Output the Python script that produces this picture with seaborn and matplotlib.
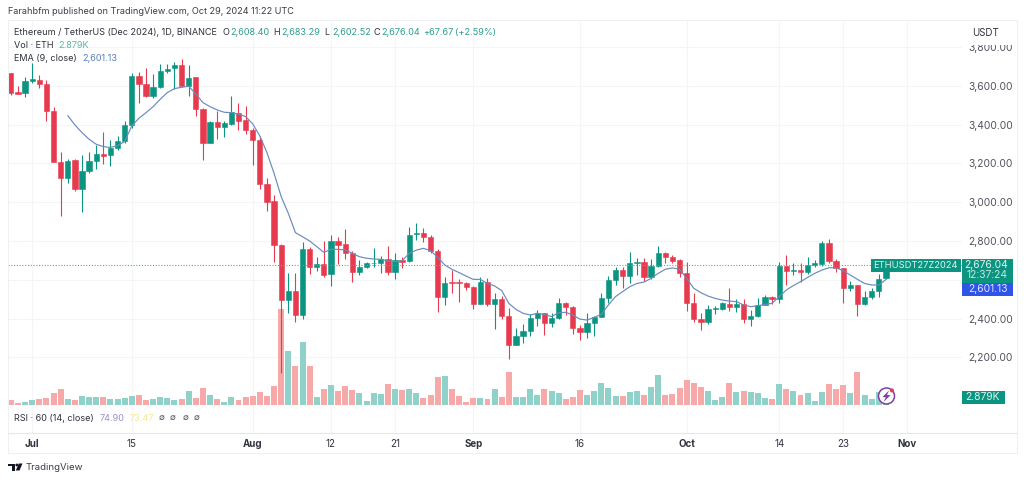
import numpy as np
import pandas as pd
import matplotlib
matplotlib.use('Agg')
import matplotlib.pyplot as plt
from matplotlib.patches import Rectangle, Circle, Polygon
from matplotlib.transforms import Affine2D
import seaborn as sns

# days counted from 1 Jul 2024, first candle is 28 Jun
days = list(range(-3, 121))

opens = [3665, 3567, 3562, 3626, 3631, 3610, 3468, 3210, 3127, 3218, 3068, 3161, 3211, 3247, 3242, 3282, 3318, 3400, 3652,
         3610, 3548, 3593, 3676, 3690, 3710, 3602, 3645, 3483, 3308, 3413, 3387, 3404, 3459, 3425, 3371, 3321, 3092,
         3005, 2779, 2495, 2544, 2418, 2757, 2667, 2681, 2630, 2800, 2783, 2740, 2642, 2664, 2685, 2686, 2707, 2642, 2702,
         2695, 2834, 2840, 2819, 2748, 2509, 2590, 2590, 2581, 2564, 2475, 2590, 2477, 2501,
         2415, 2263, 2310, 2334, 2403, 2427, 2379, 2403, 2482, 2458, 2353, 2332, 2377, 2410, 2504, 2599, 2650, 2619, 2685,
         2690, 2612, 2671, 2736, 2719, 2702, 2637, 2478, 2396, 2380, 2447, 2447, 2475, 2458, 2475, 2397, 2413, 2471, 2509,
         2502, 2671, 2647, 2649, 2638, 2678, 2681, 2791, 2698, 2659, 2559, 2571, 2475, 2513, 2544, 2608.40]
highs = [3669, 3600, 3648, 3717, 3655, 3631, 3490, 3258, 3222, 3222, 3244, 3261, 3296, 3364, 3321, 3342, 3421, 3669, 3674,
         3691, 3662, 3714, 3714, 3724, 3738, 3708, 3648, 3487, 3421, 3473, 3421, 3548, 3511, 3497, 3382, 3342, 3123,
         3037, 2785, 2637, 2637, 2797, 2771, 2719, 2802, 2831, 2819, 2860, 2750, 2702, 2693, 2762, 2723, 2774, 2740, 2719,
         2874, 2895, 2865, 2831, 2757, 2612, 2650, 2602, 2590, 2568, 2612, 2607, 2530, 2516,
         2452, 2349, 2372, 2423, 2444, 2430, 2427, 2504, 2487, 2465, 2366, 2430, 2413, 2530, 2619, 2668, 2668, 2745, 2711,
         2711, 2705, 2774, 2745, 2728, 2705, 2693, 2530, 2427, 2470, 2465, 2487, 2556, 2499, 2499, 2444, 2504, 2521, 2516,
         2693, 2728, 2685, 2685, 2716, 2702, 2802, 2809, 2705, 2662, 2595, 2573, 2544, 2556, 2630, 2683.29]
lows = [3554, 3557, 3542, 3617, 3590, 3421, 3205, 2929, 3101, 3060, 2951, 3149, 3170, 3197, 3187, 3270, 3304, 3382, 3511,
        3545, 3536, 3588, 3669, 3583, 3593, 3548, 3445, 3218, 3304, 3325, 3335, 3399, 3373, 3352, 3192, 3067, 2957,
        2693, 2117, 2427, 2384, 2396, 2630, 2647, 2612, 2568, 2681, 2705, 2590, 2623, 2659, 2668, 2637, 2625, 2602, 2659,
        2692, 2805, 2797, 2736, 2435, 2470, 2530, 2487, 2547, 2447, 2473, 2464, 2344, 2396,
        2189, 2261, 2275, 2311, 2361, 2315, 2358, 2396, 2418, 2320, 2289, 2298, 2310, 2406, 2478, 2573, 2556, 2581, 2624,
        2595, 2602, 2664, 2688, 2685, 2612, 2440, 2384, 2341, 2372, 2423, 2444, 2440, 2435, 2378, 2361, 2410, 2468, 2475,
        2478, 2573, 2624, 2590, 2630, 2668, 2671, 2688, 2642, 2478, 2544, 2413, 2468, 2499, 2509, 2602.52]
closes = [3562, 3560, 3626, 3634, 3610, 3468, 3210, 3127, 3215, 3068, 3161, 3211, 3247, 3240, 3282, 3318, 3400, 3652, 3610,
          3548, 3593, 3676, 3688, 3707, 3602, 3643, 3483, 3308, 3416, 3387, 3407, 3464, 3421, 3370, 3321, 3094, 3003,
          2779, 2495, 2544, 2418, 2757, 2667, 2681, 2625, 2798, 2781, 2736, 2642, 2664, 2685, 2688, 2709, 2642, 2702, 2693,
          2833, 2840, 2819, 2748, 2509, 2581, 2585, 2585, 2564, 2475, 2590, 2475, 2501, 2415,
          2263, 2310, 2334, 2403, 2427, 2379, 2403, 2482, 2458, 2351, 2332, 2377, 2410, 2504, 2599, 2650, 2619, 2685, 2690,
          2616, 2671, 2736, 2719, 2698, 2637, 2478, 2396, 2380, 2447, 2454, 2478, 2458, 2475, 2397, 2413, 2471, 2509, 2499,
          2671, 2647, 2650, 2638, 2678, 2685, 2788, 2698, 2659, 2557, 2571, 2475, 2513, 2544, 2604, 2676.04]

# volume in K
volumes = [1.8, 0.8, 1.2, 1.8, 2.1, 2.6, 4.2, 5.7, 2.2, 1.8, 3.3, 3.0, 3.0, 2.8, 2.1, 2.3, 2.6, 3.2, 3.6, 1.8, 2.1, 2.8, 2.5,
           1.8, 2.2, 4.9, 2.5, 6.0, 3.6, 2.2, 1.2, 3.0, 1.8, 3.0, 3.2, 4.8, 3.2, 6.8,
           34.5, 19.4, 14.0, 22.7, 14.0, 3.0, 5.7, 7.1, 4.9, 6.8, 5.4, 4.4, 1.4, 4.4, 3.9, 7.6, 5.7, 5.3, 5.8, 4.3, 2.5, 3.5,
           10.2, 10.4, 5.9, 3.2, 1.1, 2.5, 2.5, 2.2, 5.7, 2.9, 11.9, 2.9, 2.9, 5.7, 3.6,
           5.9, 5.1, 4.4, 2.2, 2.9, 5.4, 3.6, 5.1, 7.8, 6.1, 3.2, 3.3, 4.7, 4.9, 3.7, 6.4, 10.8, 3.6, 4.0, 6.1, 9.0, 7.8, 6.4,
           5.0, 1.8, 3.0, 7.8, 4.6, 4.9, 4.7, 4.4, 2.4, 2.1,
           7.7, 5.9, 4.9, 3.6, 4.4, 1.5, 4.7, 7.6, 5.9, 7.1, 4.4, 11.8, 3.6, 2.2, 4.8, 2.879]

# EMA only starts on the 9th candle
ema = [np.nan] * 8 + [
    3447, 3399, 3359, 3325, 3299, 3287, 3282, 3292, 3313, 3394, 3433, 3462, 3493, 3531, 3566, 3586, 3593, 3598, 3559, 3514,
    3493, 3476, 3464, 3462, 3454, 3442, 3404, 3342, 3256, 3149, 3029, 2943, 2843, 2822, 2800, 2771, 2741, 2757, 2757, 2754,
    2736, 2719, 2711, 2707, 2705, 2697, 2693, 2698, 2736, 2753, 2762, 2750, 2716, 2676, 2654, 2637, 2619, 2602, 2602, 2581,
    2568, 2544, 2478, 2447, 2427, 2418, 2427, 2421, 2410, 2430, 2432, 2418, 2397, 2392, 2406, 2421, 2470, 2513, 2539, 2564,
    2581, 2588, 2607, 2633, 2654, 2661, 2654, 2607, 2556, 2533, 2516, 2504, 2495, 2490, 2487, 2470, 2461, 2466, 2473, 2478,
    2513, 2547, 2570, 2590, 2612, 2633, 2650, 2662, 2662, 2647, 2624, 2602, 2581, 2573, 2573, 2601.13]

price_ticks = [2200, 2400, 2600, 2800, 3000, 3200, 3400, 3600, 3800]
price_labels = ['2,200.00', '2,400.00', '', '2,800.00', '3,000.00', '3,200.00', '3,400.00', '3,600.00', '3,800.00']
date_ticks = [0, 14, 31, 42, 51, 62, 77, 92, 105, 114, 123]
date_labels = ['Jul', '15', 'Aug', '12', '21', 'Sep', '16', 'Oct', '14', '23', 'Nov']
month_labels = ['Jul', 'Aug', 'Sep', 'Oct', 'Nov']

GREEN = '#0b9480'
RED = '#e73a4e'
VOL_GREEN = '#90d1c9'
VOL_RED = '#f6a9a8'
EMA_COL = '#6a8abf'
TXT = '#30333d'
SMALL = 6.55
AXIS_SIZE = 7.4

df = pd.DataFrame({'day': days, 'open': opens, 'high': highs, 'low': lows, 'close': closes, 'vol': volumes, 'ema': ema})
df['dir'] = np.where(df['close'] >= df['open'], 'up', 'down')
candle_col = df['dir'].map({'up': GREEN, 'down': RED})
vol_col = df['dir'].map({'up': VOL_GREEN, 'down': VOL_RED})

sns.set_theme(style='white')
plt.rcParams['font.family'] = ['Inter', 'DejaVu Sans']

W, H = 1024, 480
fig = plt.figure(figsize=(W / 100, H / 100), dpi=100, facecolor='white')
# pixel coords with y going down, same as the screenshot
px = Affine2D().scale(1, -1).translate(0, H)

rect = [8 / W, 1 - 432.5 / H, (962 - 8) / W, (432.5 - 20) / H]
xlim = (-3.40, 130.70)
ylim = (1812, 3940)

# base axes: grid + ticks
ax = fig.add_axes(rect, zorder=1)
ax.set_xlim(xlim)
ax.set_ylim(ylim)
ax.set_xticks(date_ticks)
ax.set_xticklabels(date_labels, fontsize=7.0, color=TXT)
ax.set_yticks(price_ticks)
ax.set_yticklabels(price_labels, fontsize=AXIS_SIZE, color='#50535e')
ax.yaxis.tick_right()
ax.tick_params(axis='x', length=0, pad=5)
ax.tick_params(axis='y', length=0, pad=4.3)
for lab in ax.get_xticklabels():
    if lab.get_text() in month_labels:
        lab.set_fontweight('bold')
ax.grid(True, color='#f4f5f7', linewidth=0.8)
sns.despine(ax=ax, left=True, bottom=True, right=True, top=True)

# volume pane, the seaborn style puts white edges on bars so linewidth has to be 0
ax_vol = fig.add_axes(rect, zorder=2)
ax_vol.patch.set_visible(False)
sns.barplot(data=df, x='day', y='vol', color=VOL_GREEN, native_scale=True, width=0.84, linewidth=0, ax=ax_vol, saturation=1)
for bar, c in zip(ax_vol.patches, vol_col):
    bar.set_facecolor(c)
ax_vol.set_xlim(xlim)
ax_vol.set_ylim(-9.9, 138.6)
ax_vol.axis('off')

# candles + ema
ax_p = fig.add_axes(rect, zorder=3)
ax_p.patch.set_visible(False)
ax_p.vlines(df['day'], df['low'], df['high'], colors=candle_col, linewidth=0.8)
body_low = df[['open', 'close']].min(axis=1)
body_h = (df['close'] - df['open']).abs()
ax_p.bar(df['day'], body_h, bottom=body_low, width=0.74, color=candle_col, edgecolor=candle_col, linewidth=0.4)
sns.lineplot(data=df, x='day', y='ema', color=EMA_COL, linewidth=0.85, ax=ax_p)
ax_p.axhline(closes[-1], color='#4fb0a3', linewidth=0.8, linestyle=(0, (1, 1.5)))
ax_p.set_xlim(xlim)
ax_p.set_ylim(ylim)
ax_p.axis('off')


def box(x0, y0, x1, y1, color, z=10, **kw):
    fig.add_artist(Rectangle((x0, y0), x1 - x0, y1 - y0, transform=px, facecolor=color, edgecolor='none', zorder=z, **kw))


def label(x, y, s, color=TXT, size=SMALL, ha='left', z=11, **kw):
    fig.text(x, y, s, transform=px, color=color, fontsize=size, ha=ha, va='center', zorder=z, **kw)


# frame
fig.add_artist(Rectangle((7.5, 20), 1009, 433, transform=px, facecolor='none', edgecolor='#eff0f3', linewidth=0.8, zorder=4))
fig.add_artist(plt.Line2D([7.5, 1016.5], [432.5, 432.5], transform=px, color='#e6e7eb', linewidth=0.8, zorder=4))

# header + legend text
label(8, 12, 'Farahbfm published on TradingView.com, Oct 29, 2024 11:22 UTC', color='#3a3d47')
label(14, 32.5, 'Ethereum / TetherUS (Dec 2024), 1D, BINANCE')
VAL = '#2f9e8f'
for key, kx, val, vx in [('O', 222.5, '2,608.40', 230), ('H', 273, '2,683.29', 281),
                         ('L', 324, '2,602.52', 332), ('C', 373, '2,676.04', 381)]:
    label(kx, 32.5, key)
    label(vx, 32.5, val, color=VAL)
label(423, 32.5, '+67.67', color=VAL)
label(455, 32.5, '(+2.59%)', color=VAL)
label(14, 45.5, 'Vol · ETH')
label(58, 45.5, '2.879K', color='#5cb5a8')
label(14, 58.5, 'EMA (9, close)')
label(82, 58.5, '2,601.13', color='#5b7fc0')
label(14, 418.5, 'RSI · 60 (14, close)')
label(100, 418.5, '74.90', color='#a08fce')
label(130, 418.5, '73.47', color='#f6e98f')
for sx in [162, 173, 186, 197]:
    label(sx, 418.5, '∅', color='#50535e', size=6.2, ha='center')

# USDT box, covers the top of the 3,800 label
box(965, 23, 1013, 45, 'white')
label(972, 33, 'USDT', size=7.0)

# tags on the right side
box(871, 259, 960.5, 272, GREEN)
label(915.5, 265.5, 'ETHUSDT27Z2024', color='#dff3ef', size=6.7, ha='center')
box(962, 259, 1012.5, 283, GREEN)
label(1008, 265.5, '2,676.04', color='#dff3ef', size=AXIS_SIZE, ha='right')
label(1008, 275.5, '12:37:24', color='#c5e8e1', size=AXIS_SIZE, ha='right')
box(962, 283, 1012.5, 295.5, '#2f55e8')
label(1008, 289, '2,601.13', color='#dfe6ff', size=AXIS_SIZE, ha='right')
box(962, 391, 1005, 404, GREEN)
label(1000, 397.5, '2.879K', color='#dff3ef', size=AXIS_SIZE, ha='right')

# lightning badge
fig.add_artist(Circle((886.5, 396), 8, transform=px, facecolor='white', edgecolor='#7e3f9d', linewidth=1.1, zorder=10))
fig.add_artist(Polygon([(889, 390.5), (882.5, 397), (885.8, 397.3), (883.5, 402), (890.5, 395.2), (887, 395)],
                       transform=px, facecolor='#7e3f9d', edgecolor='none', zorder=11))
fig.add_artist(Circle((892, 390.5), 2, transform=px, facecolor='#e8395a', edgecolor='none', zorder=12))

# TradingView logo
LOGO = '#131722'
box(8.3, 463.5, 14.8, 466, LOGO)
box(11.6, 463.5, 14.8, 470.5, LOGO)
fig.add_artist(Circle((16.8, 465), 1.4, transform=px, facecolor=LOGO, edgecolor='none', zorder=10))
fig.add_artist(Polygon([(15.8, 470.5), (18.8, 463.5), (22.5, 463.5), (19.5, 470.5)], transform=px,
                       facecolor=LOGO, edgecolor='none', zorder=10))
label(26, 467, 'TradingView', color='#3a3d47', size=6.9)

plt.savefig('out.png', dpi=100)
